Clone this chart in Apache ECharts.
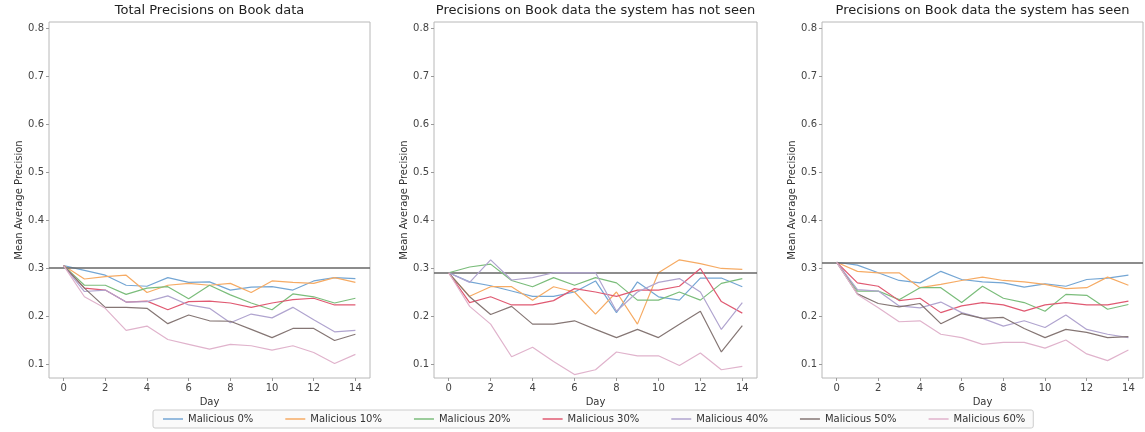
<!DOCTYPE html>
<html>
<head>
<meta charset="utf-8">
<script src="https://cdn.jsdelivr.net/npm/echarts@6/dist/echarts.min.js"></script>
<style>
  html, body { margin: 0; padding: 0; background: #ffffff; }
  #chart { width: 1145px; height: 432px; }
</style>
</head>
<body>
<div id="chart"></div>
<script>
// Days on the x axis
const days = [0, 1, 2, 3, 4, 5, 6, 7, 8, 9, 10, 11, 12, 13, 14];
const xTicks = [0, 2, 4, 6, 8, 10, 12, 14];
const yTicks = [0.1, 0.2, 0.3, 0.4, 0.5, 0.6, 0.7, 0.8];

const seriesNames = ['Malicious 0%', 'Malicious 10%', 'Malicious 20%', 'Malicious 30%',
                     'Malicious 40%', 'Malicious 50%', 'Malicious 60%'];
const panelTitles = ['Total Precisions on Book data',
                     'Precisions on Book data the system has not seen',
                     'Precisions on Book data the system has seen'];

// Day-0 precision (reference level drawn as a horizontal rule)
const baselineTotal = 0.305;
const baselineUnseen = 0.290;
const baselineSeen = 0.312;

// Total precisions
const totalM0  = [0.305, 0.295, 0.285, 0.264, 0.262, 0.280, 0.270, 0.271, 0.254, 0.260, 0.261, 0.254, 0.273, 0.280, 0.278];
const totalM10 = [0.305, 0.277, 0.282, 0.285, 0.249, 0.264, 0.268, 0.264, 0.268, 0.249, 0.273, 0.270, 0.268, 0.280, 0.270];
const totalM20 = [0.305, 0.264, 0.264, 0.245, 0.258, 0.261, 0.236, 0.264, 0.244, 0.227, 0.213, 0.246, 0.240, 0.227, 0.237];
const totalM30 = [0.305, 0.258, 0.254, 0.229, 0.231, 0.213, 0.230, 0.231, 0.227, 0.218, 0.227, 0.234, 0.237, 0.223, 0.223];
const totalM40 = [0.305, 0.251, 0.254, 0.229, 0.230, 0.242, 0.223, 0.216, 0.186, 0.204, 0.196, 0.218, 0.192, 0.167, 0.170];
const totalM50 = [0.305, 0.258, 0.218, 0.218, 0.216, 0.184, 0.202, 0.190, 0.189, 0.172, 0.155, 0.174, 0.174, 0.149, 0.162];
const totalM60 = [0.305, 0.240, 0.216, 0.170, 0.179, 0.151, 0.141, 0.131, 0.141, 0.138, 0.129, 0.138, 0.124, 0.101, 0.120];

// Precisions on unseen data
const unseenM0  = [0.290, 0.271, 0.263, 0.252, 0.241, 0.241, 0.250, 0.273, 0.207, 0.271, 0.240, 0.233, 0.279, 0.279, 0.261];
const unseenM10 = [0.290, 0.241, 0.261, 0.261, 0.233, 0.261, 0.250, 0.204, 0.250, 0.183, 0.290, 0.317, 0.309, 0.299, 0.297];
const unseenM20 = [0.290, 0.302, 0.308, 0.274, 0.261, 0.280, 0.264, 0.280, 0.269, 0.233, 0.233, 0.250, 0.233, 0.268, 0.278];
const unseenM30 = [0.290, 0.228, 0.240, 0.223, 0.223, 0.232, 0.257, 0.250, 0.241, 0.254, 0.254, 0.262, 0.299, 0.230, 0.206];
const unseenM40 = [0.290, 0.270, 0.317, 0.275, 0.280, 0.290, 0.290, 0.290, 0.210, 0.250, 0.270, 0.278, 0.250, 0.172, 0.228];
const unseenM50 = [0.290, 0.240, 0.203, 0.220, 0.183, 0.183, 0.190, 0.172, 0.155, 0.172, 0.155, 0.183, 0.210, 0.125, 0.180];
const unseenM60 = [0.290, 0.220, 0.183, 0.115, 0.135, 0.105, 0.078, 0.088, 0.125, 0.117, 0.117, 0.097, 0.123, 0.088, 0.095];

// Precisions on seen data
const seenM0  = [0.312, 0.306, 0.290, 0.274, 0.269, 0.293, 0.276, 0.271, 0.269, 0.260, 0.267, 0.262, 0.276, 0.279, 0.285];
const seenM10 = [0.312, 0.293, 0.290, 0.290, 0.259, 0.266, 0.274, 0.281, 0.274, 0.271, 0.266, 0.257, 0.259, 0.281, 0.264];
const seenM20 = [0.312, 0.252, 0.252, 0.234, 0.259, 0.259, 0.228, 0.262, 0.237, 0.228, 0.210, 0.245, 0.243, 0.214, 0.224];
const seenM30 = [0.312, 0.269, 0.262, 0.232, 0.237, 0.207, 0.221, 0.228, 0.223, 0.210, 0.223, 0.228, 0.223, 0.223, 0.231];
const seenM40 = [0.312, 0.255, 0.252, 0.221, 0.217, 0.229, 0.207, 0.195, 0.179, 0.190, 0.176, 0.202, 0.172, 0.162, 0.155];
const seenM50 = [0.312, 0.246, 0.226, 0.219, 0.226, 0.184, 0.205, 0.195, 0.197, 0.174, 0.155, 0.172, 0.166, 0.155, 0.157];
const seenM60 = [0.312, 0.245, 0.217, 0.188, 0.190, 0.162, 0.155, 0.141, 0.145, 0.145, 0.133, 0.150, 0.121, 0.107, 0.129];

const panels = [
  { title: panelTitles[0], baseline: baselineTotal,  lines: [totalM0, totalM10, totalM20, totalM30, totalM40, totalM50, totalM60] },
  { title: panelTitles[1], baseline: baselineUnseen, lines: [unseenM0, unseenM10, unseenM20, unseenM30, unseenM40, unseenM50, unseenM60] },
  { title: panelTitles[2], baseline: baselineSeen,   lines: [seenM0, seenM10, seenM20, seenM30, seenM40, seenM50, seenM60] }
];

const palette = ['#74a6d4', '#f6ab64', '#7bbd7b', '#e05a72', '#b0a4cf', '#857674', '#e0b3cc'];
const FONT = 'DejaVu Sans';

const gridBoxes = [
  { left: 49,  width: 321 },
  { left: 434, width: 323 },
  { left: 822, width: 321 }
];
const GRID_TOP = 22, GRID_H = 356;

const grids = [], xAxes = [], yAxes = [], series = [], graphics = [];

panels.forEach((p, pi) => {
  const g = gridBoxes[pi];
  grids.push({
    left: g.left, top: GRID_TOP, width: g.width, height: GRID_H,
    show: true, borderColor: '#b8b8b8', borderWidth: 1, backgroundColor: 'transparent'
  });
  xAxes.push({
    type: 'value', gridIndex: pi, min: -0.7, max: 14.7,
    name: 'Day', nameLocation: 'middle', nameGap: 16,
    nameTextStyle: { fontFamily: FONT, fontSize: 10, color: '#333' },
    axisLine: { show: false, onZero: false },
    splitLine: { show: false },
    axisTick: { show: true, length: 3, lineStyle: { color: '#999' }, customValues: xTicks },
    axisLabel: { fontFamily: FONT, fontSize: 10, color: '#444', margin: 5, customValues: xTicks,
                 formatter: v => String(v) }
  });
  yAxes.push({
    type: 'value', gridIndex: pi, min: 0.0708, max: 0.8125,
    name: 'Mean Average Precision', nameLocation: 'middle', nameGap: 25,
    nameTextStyle: { fontFamily: FONT, fontSize: 10, color: '#333' },
    axisLine: { show: false, onZero: false },
    splitLine: { show: false },
    axisTick: { show: true, length: 3, lineStyle: { color: '#999' }, customValues: yTicks },
    axisLabel: { fontFamily: FONT, fontSize: 10, color: '#444', margin: 5, customValues: yTicks,
                 formatter: v => v.toFixed(1) }
  });
  p.lines.forEach((vals, si) => {
    const s = {
      type: 'line', name: seriesNames[si], xAxisIndex: pi, yAxisIndex: pi,
      data: days.map((d, k) => [d, vals[k]]),
      symbol: 'none', silent: true, animation: false,
      lineStyle: { width: 1.2, color: palette[si] },
      itemStyle: { color: palette[si] },
      z: 3 + si
    };
    if (si === 0) {
      s.markLine = {
        silent: true, symbol: 'none', label: { show: false },
        lineStyle: { color: '#666666', width: 1.6, type: 'solid' },
        data: [{ yAxis: p.baseline }], animation: false
      };
    }
    series.push(s);
  });
  graphics.push({
    type: 'text', x: g.left + g.width / 2, y: 11,
    style: { text: p.title, fontFamily: FONT, fontSize: 13, fill: '#222',
             textAlign: 'center', textVerticalAlign: 'middle' }
  });
});

const chart = echarts.init(document.getElementById('chart'), null, { renderer: 'canvas' });
chart.setOption({
  backgroundColor: '#ffffff',
  animation: false,
  grid: grids,
  xAxis: xAxes,
  yAxis: yAxes,
  series: series,
  graphic: graphics,
  legend: {
    data: seriesNames.map((n, i) => ({ name: n, icon: 'rect', itemStyle: { color: palette[i] } })),
    left: 153, top: 410,
    orient: 'horizontal',
    itemWidth: 20, itemHeight: 1.5, itemGap: 32,
    padding: [4, 8, 4, 10],
    borderColor: '#cccccc', borderWidth: 1, borderRadius: 2,
    backgroundColor: '#fafafa',
    textStyle: { fontFamily: FONT, fontSize: 10, color: '#333' }
  }
});
</script>
</body>
</html>
